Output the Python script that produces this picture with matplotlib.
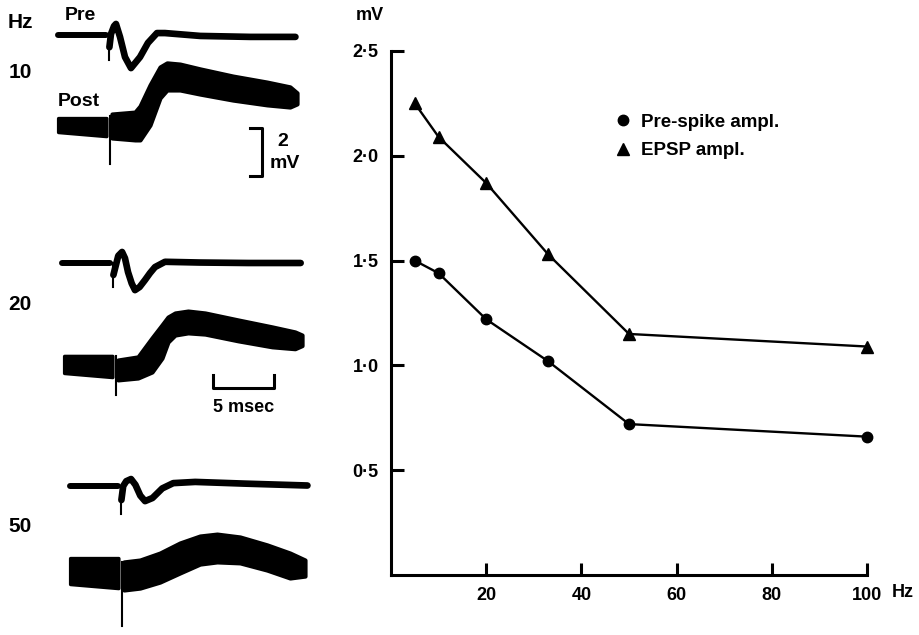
import matplotlib
matplotlib.use("Agg")
import matplotlib.pyplot as plt
from matplotlib.lines import Line2D
import numpy as np

plt.rcParams['font.family'] = ['Liberation Sans', 'DejaVu Sans']
plt.rcParams['font.weight'] = 'bold'

# ---- right panel: amplitude vs stimulus frequency ----
freq_hz = [5, 10, 20, 33, 50, 100]
pre_spike_mv = [1.50, 1.44, 1.22, 1.02, 0.72, 0.66]
epsp_mv = [2.25, 2.09, 1.87, 1.53, 1.15, 1.09]

x_ticks = [20, 40, 60, 80, 100]
y_ticks = [0.5, 1.0, 1.5, 2.0, 2.5]
y_tick_labels = ['0·5', '1·0', '1·5', '2·0', '2·5']

# ---- left panel: sample records (time in ms from stimulus, voltage in mV from baseline) ----
pre10_t = [0.08, 0.33, 0.49, 0.82, 1.23, 1.72, 2.46, 3.11, 3.85, 4.5, 7.4, 11.5, 15.2]
pre10_v = [0.02, 0.35, 0.44, -0.10, -0.94, -1.40, -0.94, -0.35, 0.06, 0.06, -0.06, -0.10, -0.10]
pre20_t = [0.1, 0.35, 0.66, 0.9, 1.15, 1.45, 1.72, 2.1, 2.54, 2.95, 3.36, 4.18, 7.0, 11.0, 15.3]
pre20_v = [-0.2, 0.3, 0.46, 0.2, -0.38, -0.85, -1.13, -1.0, -0.71, -0.42, -0.17, 0.05, 0.02, 0.0, 0.0]
pre50_t = [0.1, 0.35, 0.74, 1.1, 1.5, 1.89, 2.5, 3.3, 4.2, 6.0, 10.0, 15.2]
pre50_v = [0.0, 0.2, 0.29, 0.05, -0.4, -0.63, -0.5, -0.1, 0.12, 0.17, 0.1, 0.02]

post10_t = [0.16, 2.05, 2.46, 3.28, 4.10, 4.67, 5.74, 7.38, 10.08, 12.87, 14.75, 15.33]
post10_top = [0.50, 0.58, 0.83, 1.71, 2.46, 2.63, 2.58, 2.38, 2.08, 1.83, 1.63, 1.38]
post10_bot = [-0.50, -0.58, -0.58, 0.04, 1.17, 1.50, 1.50, 1.33, 1.08, 0.88, 0.79, 0.92]
post20_t = [0.16, 1.80, 2.95, 3.77, 4.26, 4.84, 5.90, 7.30, 10.0, 12.79, 14.67, 15.25]
post20_top = [0.25, 0.38, 1.17, 1.71, 2.04, 2.21, 2.29, 2.21, 1.92, 1.63, 1.42, 1.29]
post20_bot = [-0.58, -0.50, -0.25, 0.33, 1.00, 1.29, 1.38, 1.33, 1.05, 0.80, 0.72, 0.85]
post50_t = [0.16, 1.48, 3.11, 4.75, 6.39, 7.79, 9.67, 11.89, 13.77, 15.0]
post50_top = [0.42, 0.50, 0.79, 1.21, 1.50, 1.58, 1.46, 1.13, 0.79, 0.50]
post50_bot = [-0.75, -0.67, -0.42, -0.04, 0.33, 0.42, 0.38, 0.08, -0.25, -0.17]

# pre-stimulus block of each post record: (top, bottom at start, bottom at end) in mV
post10_base = (0.33, -0.25, -0.42)
post20_base = (0.42, -0.29, -0.46)
post50_base = (0.58, -0.50, -0.67)

# stimulus artefact depth (mV) for pre / post records
artefact_pre = [-1.06, -1.0, -1.17]
artefact_post = [-1.58, -1.21, -2.25]

rates = ['10', '20', '50']
scale_ms = 5
scale_mv = 2

PX_MS = 12.2   # pixels per ms
PX_MV = 24.0   # pixels per mV

fig = plt.figure(figsize=(9.19, 6.35), dpi=100)

# left panel drawn in pixel space
axl = fig.add_axes([0, 0, 1, 1])
axl.set_xlim(0, 919)
axl.set_ylim(635, 0)
axl.axis('off')


def px(t, v, x0, y0):
    return x0 + np.asarray(t, float) * PX_MS, y0 - np.asarray(v, float) * PX_MV


def draw_pre(t, v, x0, y0, depth):
    bx, by = px([-4.25, -0.3], [0, 0], x0, y0)
    axl.plot(bx, by, color='k', lw=4.3, solid_capstyle='round')
    ax_, ay_ = px([-0.05, -0.05], [0, depth], x0, y0)
    axl.plot(ax_, ay_, color='k', lw=1.5)
    wx, wy = px([-0.05] + list(t), [depth * 0.5] + list(v), x0, y0)
    axl.plot(wx, wy, color='k', lw=4.8, solid_capstyle='round', solid_joinstyle='round')


def draw_post(t, top, bot, base, x0, y0, depth):
    bt = np.array([-4.25, -0.3])
    bx, btop = px(bt, [base[0], base[0]], x0, y0)
    _, bbot = px(bt, [base[1], base[2]], x0, y0)
    axl.fill_between(bx, btop, bbot, color='k', lw=2.5, edgecolor='k', joinstyle='round')
    ax_, ay_ = px([0.0, 0.0], [0.4, depth], x0, y0)
    axl.plot(ax_, ay_, color='k', lw=1.5)
    x, yt = px(t, top, x0, y0)
    _, yb = px(t, bot, x0, y0)
    axl.fill_between(x, yt, yb, color='k', lw=3, edgecolor='k', joinstyle='round')


# anchors (stimulus x, baseline y) of each record, in pixels
pre_anchor = [(110, 34.5), (114, 263), (122, 486)]
post_anchor = [(110, 126), (116, 366), (122, 572)]
label_y = [73, 304, 526]

pre_data = [(pre10_t, pre10_v), (pre20_t, pre20_v), (pre50_t, pre50_v)]
post_data = [(post10_t, post10_top, post10_bot, post10_base),
             (post20_t, post20_top, post20_bot, post20_base),
             (post50_t, post50_top, post50_bot, post50_base)]

for i in range(3):
    draw_pre(*pre_data[i], *pre_anchor[i], artefact_pre[i])
    draw_post(*post_data[i], *post_anchor[i], artefact_post[i])
    axl.text(20, label_y[i], rates[i], fontsize=15, ha='center', va='center')

axl.text(20, 22, 'Hz', fontsize=15, ha='center', va='center')
axl.text(80, 15, 'Pre', fontsize=14, ha='center', va='center')
axl.text(79, 102, 'Post', fontsize=14, ha='center', va='center')

# calibration bars
vb_x, vb_top = 262, 128
axl.plot([vb_x - 12, vb_x, vb_x, vb_x - 12],
         [vb_top, vb_top, vb_top + scale_mv * PX_MV, vb_top + scale_mv * PX_MV],
         color='k', lw=2.2)
axl.text(283, 141, '2', fontsize=14, ha='center', va='center')
axl.text(285, 164, 'mV', fontsize=14, ha='center', va='center')

hb_x, hb_y = 213, 388
axl.plot([hb_x, hb_x, hb_x + scale_ms * PX_MS, hb_x + scale_ms * PX_MS],
         [hb_y - 13, hb_y, hb_y, hb_y - 13], color='k', lw=2.2)
axl.text(hb_x + scale_ms * PX_MS / 2, 407, '5 msec', fontsize=13, ha='center', va='center')

# right panel
ax = fig.add_axes([391 / 919, 1 - 575 / 635, 476 / 919, 524 / 635])
ax.patch.set_alpha(0)
ax.plot(freq_hz, pre_spike_mv, color='k', lw=1.7, marker='o', ms=7.5, clip_on=False)
ax.plot(freq_hz, epsp_mv, color='k', lw=1.7, marker='^', ms=9, clip_on=False)
ax.set_xlim(0, 100)
ax.set_ylim(0, 2.5)
ax.set_xticks(x_ticks)
ax.set_xticklabels([str(v) for v in x_ticks])
ax.set_yticks(y_ticks)
ax.set_yticklabels(y_tick_labels)
for s in ['top', 'right']:
    ax.spines[s].set_visible(False)
for s in ['left', 'bottom']:
    ax.spines[s].set_linewidth(2.2)
ax.tick_params(direction='in', length=9, width=2.2, labelsize=13, pad=9)
ax.text(100 + 5.2, -0.085, 'Hz', fontsize=13, ha='left', va='center', clip_on=False)
ax.text(-4.5, 2.67, 'mV', fontsize=13, ha='center', va='center', clip_on=False)

handles = [Line2D([], [], color='k', marker='o', ls='none', ms=7.5),
           Line2D([], [], color='k', marker='^', ls='none', ms=9)]
ax.legend(handles, ['Pre-spike ampl.', 'EPSP ampl.'], loc='upper left',
          bbox_to_anchor=(0.4685, 0.88), frameon=False, fontsize=13.5,
          handlelength=1.0, handletextpad=0.45, labelspacing=0.6,
          borderpad=0, borderaxespad=0)

fig.savefig('out.png', dpi=100)
